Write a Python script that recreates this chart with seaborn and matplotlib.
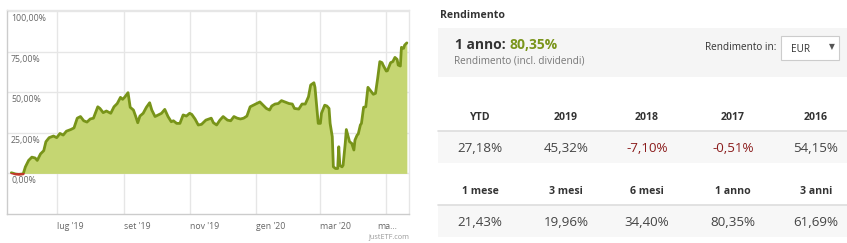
import matplotlib
matplotlib.use("Agg")
import matplotlib.pyplot as plt
from matplotlib.patches import Rectangle
import matplotlib.transforms as mtransforms
import seaborn as sns
import pandas as pd
import numpy as np

# ---------------- data ----------------
dates = [
    "2019-05-20", "2019-05-24", "2019-05-27", "2019-05-31", "2019-06-02", "2019-06-05",
    "2019-06-08", "2019-06-11", "2019-06-13", "2019-06-16", "2019-06-19", "2019-06-21",
    "2019-06-24", "2019-06-28", "2019-07-01", "2019-07-04", "2019-07-07", "2019-07-10",
    "2019-07-14", "2019-07-17", "2019-07-20", "2019-07-23", "2019-07-26", "2019-07-29",
    "2019-08-01", "2019-08-04", "2019-08-08", "2019-08-10", "2019-08-13", "2019-08-16",
    "2019-08-20", "2019-08-23", "2019-08-26", "2019-08-29", "2019-08-31", "2019-09-02",
    "2019-09-05", "2019-09-07", "2019-09-10", "2019-09-12", "2019-09-14", "2019-09-16",
    "2019-09-19", "2019-09-22", "2019-09-25", "2019-09-27", "2019-09-30", "2019-10-03",
    "2019-10-06", "2019-10-09", "2019-10-12", "2019-10-15", "2019-10-17", "2019-10-20",
    "2019-10-23", "2019-10-26", "2019-10-29", "2019-11-01", "2019-11-03", "2019-11-06",
    "2019-11-09", "2019-11-12", "2019-11-16", "2019-11-19", "2019-11-21", "2019-11-23",
    "2019-11-26", "2019-11-29", "2019-12-02", "2019-12-06", "2019-12-09", "2019-12-12",
    "2019-12-15", "2019-12-18", "2019-12-21", "2019-12-24", "2019-12-27", "2019-12-30",
    "2020-01-02", "2020-01-05", "2020-01-08", "2020-01-11", "2020-01-14", "2020-01-16",
    "2020-01-19", "2020-01-22", "2020-01-25", "2020-01-28", "2020-02-01", "2020-02-04",
    "2020-02-06", "2020-02-10", "2020-02-13", "2020-02-16", "2020-02-19", "2020-02-21",
    "2020-02-24", "2020-02-25", "2020-02-28", "2020-03-01", "2020-03-02", "2020-03-05",
    "2020-03-07", "2020-03-09", "2020-03-10", "2020-03-12", "2020-03-13", "2020-03-15",
    "2020-03-17", "2020-03-18", "2020-03-19", "2020-03-21", "2020-03-22", "2020-03-24",
    "2020-03-25", "2020-03-28", "2020-03-30", "2020-04-01", "2020-04-02", "2020-04-04",
    "2020-04-05", "2020-04-07", "2020-04-08", "2020-04-10", "2020-04-12", "2020-04-14",
    "2020-04-16", "2020-04-19", "2020-04-21", "2020-04-23", "2020-04-25", "2020-04-27",
    "2020-04-28", "2020-05-01", "2020-05-02", "2020-05-05", "2020-05-07", "2020-05-09",
    "2020-05-11", "2020-05-12", "2020-05-14", "2020-05-15", "2020-05-17", "2020-05-18",
    "2020-05-20",
]
returns = [
    0.4, -0.4, -0.6, -0.3, 4.0, 8.0,
    10.0, 9.5, 8.0, 12.0, 14.0, 19.5,
    22.0, 23.0, 22.0, 24.6, 23.6, 26.0,
    27.0, 28.0, 34.0, 35.0, 32.4, 31.6,
    33.5, 34.0, 41.0, 40.0, 37.4, 38.4,
    37.0, 41.0, 43.0, 46.8, 45.6, 47.0,
    49.7, 40.7, 39.0, 35.3, 31.2, 35.3,
    37.0, 40.7, 43.5, 39.0, 35.0, 36.0,
    37.0, 39.4, 35.0, 31.8, 32.4, 30.8,
    30.8, 36.0, 35.3, 37.0, 36.3, 33.5,
    29.8, 30.2, 32.8, 33.5, 34.0, 31.2,
    29.8, 32.8, 35.0, 32.8, 32.4, 35.0,
    34.0, 33.5, 34.0, 35.3, 41.0, 42.0,
    43.0, 44.0, 42.0, 40.0, 39.0, 41.5,
    42.7, 43.0, 44.8, 44.0, 43.0, 42.7,
    40.0, 39.6, 42.7, 42.7, 47.2, 54.4,
    55.8, 53.0, 30.8, 30.8, 37.0, 42.0,
    41.5, 40.0, 30.8, 22.6, 4.1, 3.0,
    3.0, 16.4, 5.0, 4.0, 5.0, 18.5,
    27.0, 19.5, 18.5, 14.4, 20.5, 23.6,
    24.2, 29.8, 30.8, 40.7, 41.0, 53.0,
    51.3, 48.7, 49.3, 58.5, 68.8, 68.2,
    66.7, 63.0, 63.2, 68.2, 68.8, 71.4,
    70.2, 66.7, 66.1, 77.6, 77.0, 79.0,
    80.35,
]
y_ticks = [0, 25, 50, 75, 100]
y_tick_labels = ["0,00%", "25,00%", "50,00%", "75,00%", "100,00%"]
month_ticks = ["2019-07-01", "2019-09-01", "2019-11-01", "2020-01-01", "2020-03-01", "2020-05-01"]
month_labels = ["lug '19", "set '19", "nov '19", "gen '20", "mar '20", "ma..."]

headline_label = "1 anno: "
headline_value = "80,35%"
table1_headers = ["YTD", "2019", "2018", "2017", "2016"]
table1_values = [27.18, 45.32, -7.10, -0.51, 54.15]
table2_headers = ["1 mese", "3 mesi", "6 mesi", "1 anno", "3 anni"]
table2_values = [21.43, 19.96, 34.40, 80.35, 61.69]

df = pd.DataFrame({"date": pd.to_datetime(dates), "ret": returns})

# ---------------- styling ----------------
sns.set_theme(style="white")
plt.rcParams["font.family"] = ["Open Sans", "DejaVu Sans"]

W, H = 847, 243
fig = plt.figure(figsize=(W / 100, H / 100), dpi=100)

LINE = "#789419"
FILL = "#c5d672"
RED = "#c0392b"
GRID = "#e6e6e6"
TXT = "#666666"

def ax_rect(x0, y0, x1, y1):
    return [x0 / W, 1 - y1 / H, (x1 - x0) / W, (y1 - y0) / H]

ax = fig.add_axes(ax_rect(7, 10, 409, 214))
x_min = pd.Timestamp("2019-05-16")
x_max = pd.Timestamp("2020-05-22")

ax.fill_between(df["date"], 0, df["ret"].clip(lower=0), color=FILL, lw=0, zorder=2)
sns.lineplot(data=df, x="date", y="ret", ax=ax, color=LINE, lw=2.0, zorder=3)
green_line = ax.lines[-1]
green_line.set_clip_path(Rectangle((0, 0), 1e6, 1e3, transform=ax.transData))
red_line, = ax.plot(df["date"], df["ret"], color=RED, lw=2.0, zorder=3)
red_line.set_clip_path(Rectangle((0, -100), 1e6, 100, transform=ax.transData))

ax.set_xlim(x_min, x_max)
ax.set_ylim(-25, 100.6)
ax.set_xlabel("")
ax.set_ylabel("")
ax.set_xticks(pd.to_datetime(month_ticks))
ax.set_yticks(y_ticks)
ax.tick_params(axis="both", length=0, labelbottom=False, labelleft=False)
ax.grid(True, color=GRID, lw=1, zorder=0)
for side in ["top", "right"]:
    ax.spines[side].set_color(GRID)
    ax.spines[side].set_linewidth(1)
for side in ["left", "bottom"]:
    ax.spines[side].set_color("#cccccc")
    ax.spines[side].set_linewidth(1)

# y labels inside the plot, below their grid lines
ytr = mtransforms.blended_transform_factory(ax.transAxes, ax.transData)
for v, lab in zip(y_ticks, y_tick_labels):
    ax.text(0.01, v, lab, ha="left", va="top", fontsize=6.3, color=TXT,
            transform=ytr + mtransforms.ScaledTranslation(0, -3 / 100, fig.dpi_scale_trans))

# x labels below the plot
xtr = mtransforms.blended_transform_factory(ax.transData, ax.transAxes)
for i, (d, lab) in enumerate(zip(pd.to_datetime(month_ticks), month_labels)):
    dx = -9 / 100 if i == len(month_labels) - 1 else 0
    ax.text(d, 0, lab, ha="left", va="top", fontsize=6.3, color=TXT,
            transform=xtr + mtransforms.ScaledTranslation(dx, -8 / 100, fig.dpi_scale_trans))

fig.text(409 / W, 1 - 237 / H, "justETF.com", ha="right", va="center", fontsize=5.2, color="#999999")

# ---------------- right panel ----------------
fig.text(440 / W, 1 - 15 / H, "Rendimento", ha="left", va="center", fontsize=7.6, fontweight="bold", color="#333333")

fig.patches.append(Rectangle((438 / W, 1 - 77 / H), (847 - 438) / W, 49 / H,
                             transform=fig.transFigure, facecolor="#f5f5f5", edgecolor="none"))
t1 = fig.text(455 / W, 1 - 45 / H, headline_label, ha="left", va="center", fontsize=10,
              fontweight="bold", color="#333333")
fig.canvas.draw()
bb = t1.get_window_extent()
fig.text(bb.x1 / W, 1 - 45 / H, headline_value, ha="left", va="center", fontsize=10,
         fontweight="bold", color="#7a951c")
fig.text(454 / W, 1 - 61 / H, "Rendimento (incl. dividendi)", ha="left", va="center",
         fontsize=7.2, color="#777777")
fig.text(776 / W, 1 - 48 / H, "Rendimento in:", ha="right", va="center", fontsize=7.2, color="#333333")
fig.patches.append(Rectangle((781 / W, 1 - 60 / H), 58 / W, 24 / H, transform=fig.transFigure,
                             facecolor="white", edgecolor="#cccccc", lw=0.8))
fig.text(791 / W, 1 - 49 / H, "EUR", ha="left", va="center", fontsize=7.2, color="#333333")
fig.text(832 / W, 1 - 47 / H, "▼", ha="center", va="center", fontsize=5.5, color="#555555",
         family=["DejaVu Sans"])

col_x = [480, 566, 647, 733, 816]

def fmt(v):
    return f"{v:.2f}%".replace(".", ",")

def draw_table(headers, values, y_head, y_line, y_bottom, y_val):
    fig.patches.append(Rectangle((438 / W, 1 - y_bottom / H), (847 - 438) / W, (y_bottom - y_line) / H,
                                 transform=fig.transFigure, facecolor="#f7f7f7", edgecolor="none"))
    fig.lines.append(plt.Line2D([438 / W, 1], [1 - y_line / H] * 2, transform=fig.transFigure,
                                color="#dddddd", lw=1.2))
    for cx, h, v in zip(col_x, headers, values):
        fig.text(cx / W, 1 - y_head / H, h, ha="center", va="center", fontsize=7.6,
                 fontweight="bold", color="#333333")
        fig.text(cx / W, 1 - y_val / H, fmt(v), ha="center", va="center", fontsize=9.6,
                 color="#8b1c1c" if v < 0 else "#444444")

draw_table(table1_headers, table1_values, 117, 131, 163, 148)
draw_table(table2_headers, table2_values, 192, 205, 237, 222)

fig.savefig("out.png", dpi=100)
